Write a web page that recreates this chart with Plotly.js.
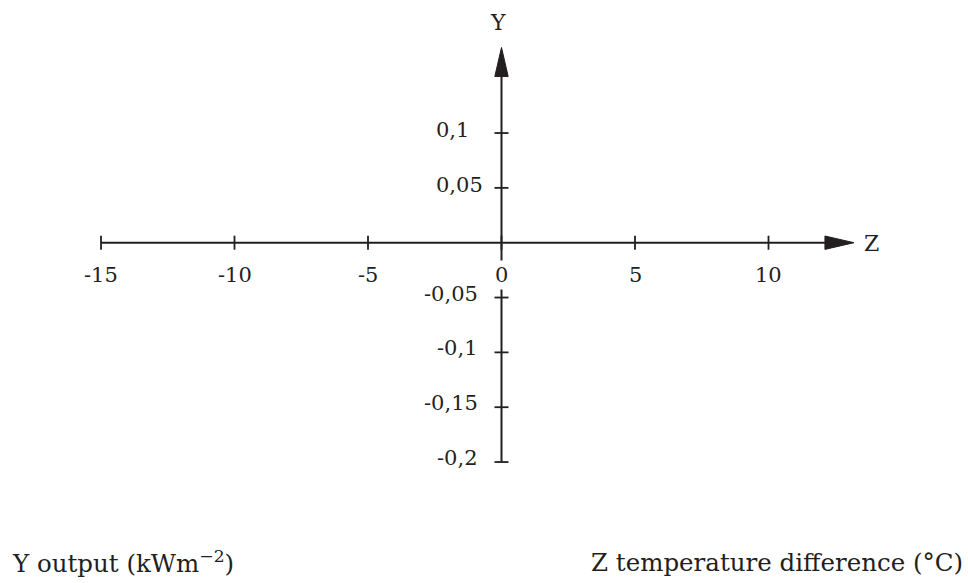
<!DOCTYPE html>
<html>
<head>
<meta charset="utf-8">
<script src="https://cdn.plot.ly/plotly-3.0.1.min.js"></script>
<style>html,body{margin:0;padding:0;background:#fff;}#chart{width:968px;height:583px;}</style>
</head>
<body>
<div id="chart"></div>
<script>
// ---- chart content ----
const xTickValues = [-15, -10, -5, 0, 5, 10];
const xTickLabels = ['-15', '-10', '-5', '0', '5', '10'];
const yTickValues = [0.1, 0.05, -0.05, -0.1, -0.15, -0.2];
const yTickLabels = ['0,1', '0,05', '-0,05', '-0,1', '-0,15', '-0,2'];
const xAxisExtent = [-15, 13.2];     // axis start, arrow tip
const yAxisExtent = [-0.2, 0.178];   // axis start, arrow tip
const xAxisName = 'Z';
const yAxisName = 'Y';
const yCaption = 'Y output (kWm<sup>−2</sup>)';
const xCaption = 'Z temperature difference (°C)';

// ---- styling ----
const ink = '#231f20';
const fontFamily = '"DejaVu Serif", "Liberation Serif", serif';
const W = 968, H = 583;
const xRange = [-18.783, 17.472];
const yRange = [-0.3103, 0.2213];
const pxX = (xRange[1] - xRange[0]) / W;   // data units per px
const pxY = (yRange[1] - yRange[0]) / H;
const headLen = 29, headHalf = 6.7;

const xTip = xAxisExtent[1], yTip = yAxisExtent[1];
const traces = [
  { x: [xAxisExtent[0], xTip - headLen * pxX], y: [0, 0], mode: 'lines', line: {color: ink, width: 2}, hoverinfo: 'skip' },
  { x: [0, 0], y: [yAxisExtent[0], yTip - headLen * pxY], mode: 'lines', line: {color: ink, width: 2}, hoverinfo: 'skip' },
  { x: xTickValues, y: xTickValues.map(() => 0), mode: 'markers',
    marker: {symbol: 'line-ns', size: 10, line: {color: ink, width: 1.8}}, hoverinfo: 'skip' },
  { x: yTickValues.map(() => 0), y: yTickValues, mode: 'markers',
    marker: {symbol: 'line-ew', size: 10, line: {color: ink, width: 1.8}}, hoverinfo: 'skip' },
  { x: [xTip, xTip - headLen * pxX, xTip - headLen * pxX, xTip],
    y: [0, headHalf * pxY, -headHalf * pxY, 0],
    mode: 'lines', fill: 'toself', fillcolor: ink, line: {color: ink, width: 1}, hoverinfo: 'skip' },
  { x: [0, headHalf * pxX, -headHalf * pxX, 0],
    y: [yTip, yTip - headLen * pxY, yTip - headLen * pxY, yTip],
    mode: 'lines', fill: 'toself', fillcolor: ink, line: {color: ink, width: 1}, hoverinfo: 'skip' }
];

const tickFont = {family: fontFamily, size: 21, color: ink};
const nameFont = {family: fontFamily, size: 22, color: ink};
const capFont = {family: fontFamily, size: 24.5, color: ink};
const annotations = [];
xTickValues.forEach((v, i) => annotations.push({
  x: v, y: 0, xref: 'x', yref: 'y', text: xTickLabels[i], showarrow: false,
  xanchor: 'center', yanchor: 'middle', yshift: -32, font: tickFont,
  bgcolor: v === 0 ? '#ffffff' : 'rgba(0,0,0,0)', borderpad: 2
}));
yTickValues.forEach((v, i) => annotations.push({
  x: 0, y: v, xref: 'x', yref: 'y', text: yTickLabels[i], showarrow: false,
  xanchor: v > 0 ? 'left' : 'right', xshift: v > 0 ? -68 : -22,
  yanchor: 'middle', yshift: v > 0 ? 3 : 4, font: tickFont
}));
annotations.push({x: 0, y: yTip, xref: 'x', yref: 'y', text: yAxisName, showarrow: false,
  xanchor: 'center', yanchor: 'middle', xshift: -4, yshift: 25, font: nameFont});
annotations.push({x: xTip, y: 0, xref: 'x', yref: 'y', text: xAxisName, showarrow: false,
  xanchor: 'center', yanchor: 'middle', xshift: 18, yshift: -1, font: nameFont});
annotations.push({x: 10 / W, y: 1 - 562 / H, xref: 'paper', yref: 'paper', text: yCaption, showarrow: false,
  xanchor: 'left', yanchor: 'middle', font: capFont});
annotations.push({x: 965 / W, y: 1 - 562 / H, xref: 'paper', yref: 'paper', text: xCaption, showarrow: false,
  xanchor: 'right', yanchor: 'middle', font: capFont});

const layout = {
  width: W, height: H,
  margin: {l: 0, r: 0, t: 0, b: 0, pad: 0},
  paper_bgcolor: '#ffffff', plot_bgcolor: '#ffffff',
  showlegend: false,
  xaxis: {range: xRange, visible: false, fixedrange: true},
  yaxis: {range: yRange, visible: false, fixedrange: true},
  annotations
};
Plotly.newPlot('chart', traces, layout, {displayModeBar: false, staticPlot: true});
</script>
</body>
</html>
